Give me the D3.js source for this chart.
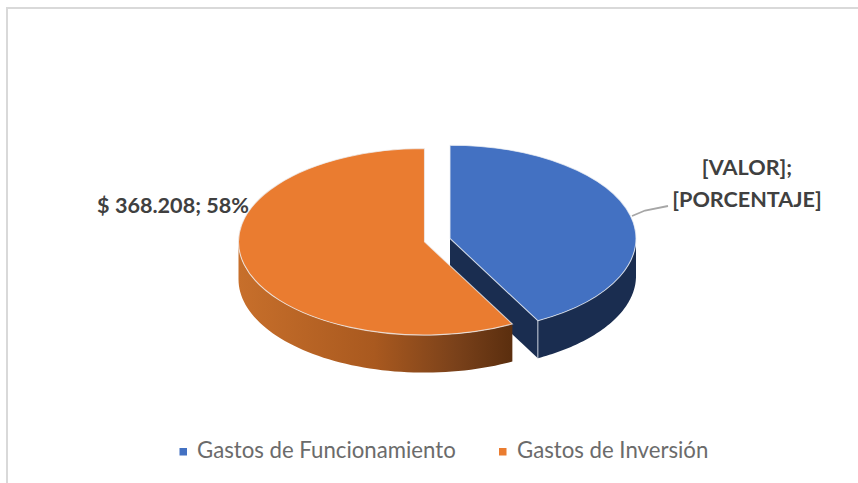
<!DOCTYPE html>
<html><head><meta charset="utf-8">
<script src="https://cdn.jsdelivr.net/npm/d3@7"></script>
<style>html,body{margin:0;padding:0;background:#fff}svg{display:block}text{font-family:Lato,sans-serif}</style>
</head><body><svg id="c" width="858" height="483"></svg>
<script>
const categories = ["Gastos de Funcionamiento", "Gastos de Inversión"];
const values = [268.5, 368.208];
const colors = ["#4371c2", "#ea7c30"];
const wallColors = ["#1a2d50", null];
const dataLabelLeft = "$ 368.208; 58%";
const dataLabelRight = ["[VALOR];", "[PORCENTAJE]"];

const svg = d3.select("#c");
const rx = 186, ry = 93.3, depth = 37.5;
const centers = [{x:450,y:238.5},{x:424.5,y:241.8}];
const pie = d3.pie().sort(null).value(d=>d);
const arcs = pie(values);
const defs = svg.append("defs");
const g = defs.append("linearGradient").attr("id","ow").attr("gradientUnits","userSpaceOnUse")
  .attr("x1",239).attr("x2",510).attr("y1",0).attr("y2",0);
[[0,"#c76f2b"],[0.5,"#a9591f"],[0.8,"#7a411a"],[1,"#5c2f0f"]].forEach(s=>g.append("stop").attr("offset",s[0]).attr("stop-color",s[1]));

// frame
svg.append("path").attr("d","M7 483V8H858").attr("fill","none").attr("stroke","#d9d9d9").attr("stroke-width",2);

const pt = (c,a,dz=0)=>[c.x+rx*Math.sin(a), c.y-ry*Math.cos(a)+dz];
const line = d3.line();
function ring(c,a0,a1){
  const s=Math.max(a0,Math.PI/2), e=Math.min(a1,Math.PI*1.5);
  const top=d3.range(0,61).map(i=>pt(c,s+(e-s)*i/60));
  const bot=top.slice().reverse().map(p=>[p[0],p[1]+depth]);
  return line(top.concat(bot))+"Z";
}
const arcGen = d3.arc().innerRadius(0).outerRadius(rx);

function slice(i){
  const c=centers[i],a=arcs[i],gs=svg.append("g");
  if(i===0){
    const tip=pt(c,a.endAngle);
    gs.append("path").attr("d",line([[c.x,c.y],tip,[tip[0],tip[1]+depth],[c.x,c.y+depth]])+"Z").attr("fill",wallColors[0]);
  }
  gs.append("path").attr("d",ring(c,a.startAngle,a.endAngle)).attr("fill",i===0?wallColors[0]:"url(#ow)");
  if(i===0){
    const tip=pt(c,a.endAngle);
    gs.append("path").attr("d",line([tip,[tip[0],tip[1]+depth]])).attr("stroke","#c8cfdc").attr("stroke-width",1).attr("fill","none");
  }
  gs.append("path").attr("transform",`translate(${c.x},${c.y}) scale(1,${ry/rx})`)
    .attr("d",arcGen(a)).attr("fill",colors[i]).attr("stroke","#eef0f4").attr("stroke-width",1.1).attr("vector-effect","non-scaling-stroke").attr("stroke-opacity",0.75);
}
slice(0); slice(1);

// leader
svg.append("path").attr("d",line([[632,216],[645,210.5],[668,206]])).attr("fill","none").attr("stroke","#a6a6a6").attr("stroke-width",1.8);

// data labels
const lbl=(t,x,y,a)=>svg.append("text").attr("x",x).attr("y",y).attr("text-anchor",a).attr("font-size",21.6).attr("font-weight",700).attr("fill","#404040").text(t);
lbl(dataLabelLeft,249,213,"end");
lbl(dataLabelRight[0],747,174.5,"middle");
lbl(dataLabelRight[1],747,207,"middle");

// legend
const lx=[179.5,499], tx=[197,517];
categories.forEach((t,i)=>{
  svg.append("rect").attr("x",lx[i]).attr("y",448).attr("width",7.5).attr("height",7.5).attr("fill",colors[i]);
  svg.append("text").attr("x",tx[i]).attr("y",457.5).attr("font-size",22.2).attr("fill","#6b6b6b").text(t);
});
</script></body></html>
